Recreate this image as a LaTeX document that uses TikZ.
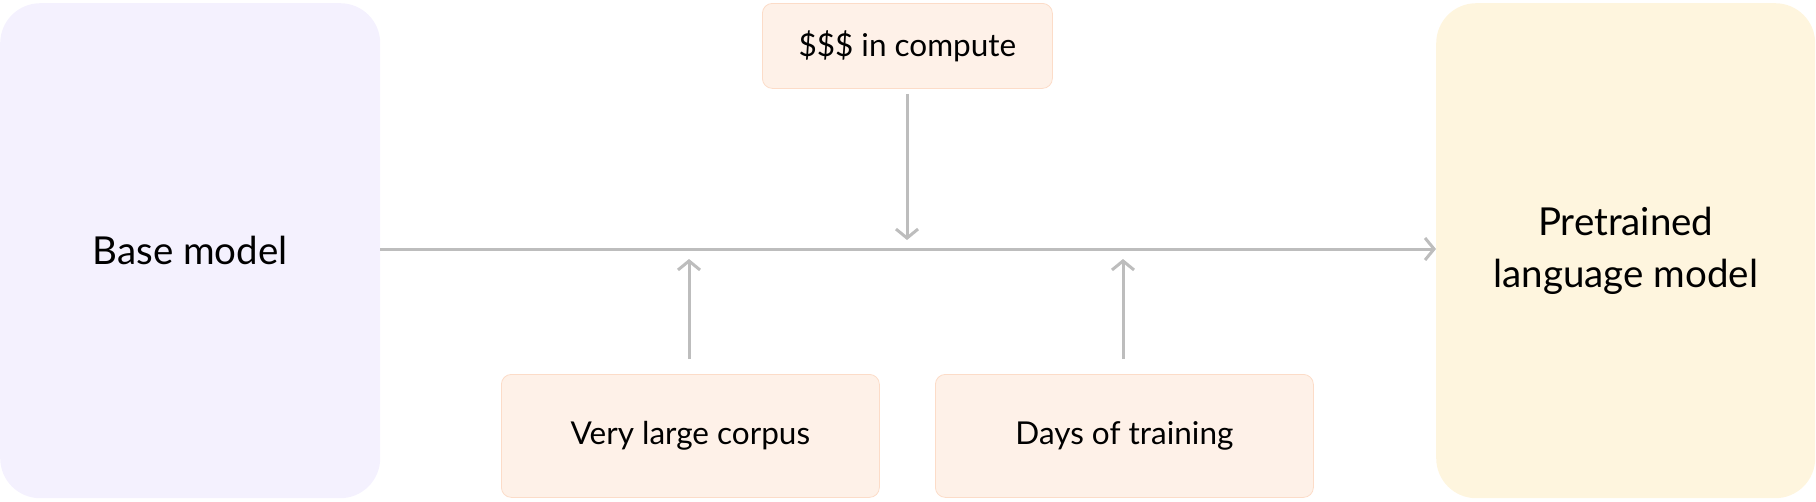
\documentclass[tikz,border=0pt]{standalone}
\usepackage{fontspec}
\setmainfont{Lato}
\usetikzlibrary{arrows.meta}
\definecolor{lav}{HTML}{F4F1FE}
\definecolor{yel}{HTML}{FEF5DE}
\definecolor{peach}{HTML}{FEF1E8}
\definecolor{peachline}{HTML}{FCDCC8}
\definecolor{conncol}{HTML}{BDBDBD}
\begin{document}
\begin{tikzpicture}[x=1pt,y=-1pt,
  bigbox/.style={rounded corners=40pt, inner sep=0pt, align=center, font=\fontsize{38.5}{52}\selectfont, anchor=north west},
  smallbox/.style={rounded corners=10pt, draw=peachline, line width=0.8pt, fill=peach, inner sep=0pt, font=\fontsize{31.5}{38}\selectfont, anchor=north west},
  conn/.style={draw=conncol, line width=3pt, -{Straight Barb[length=9pt,width=22pt,line width=3pt]}}]
\useasboundingbox (0,0) rectangle (1816,501);
\node[bigbox, fill=lav, minimum width=380pt, minimum height=495pt] (base) at (0,3) {Base model};
\node[bigbox, fill=yel, minimum width=379pt, minimum height=495pt] (plm) at (1436,3) {Pretrained\\language model};
\node[smallbox, minimum width=290pt, minimum height=85pt] (compute) at (762,3) {\$\$\$ in compute};
\node[smallbox, minimum width=378pt, minimum height=123pt] (corpus) at (501,374) {Very large corpus};
\node[smallbox, minimum width=378pt, minimum height=123pt] (days) at (935,374) {Days of training};
\coordinate (j1) at (907,249);
\coordinate (j2) at (689,249);
\coordinate (j3) at (1123,249);
\draw[conn] (base.east |- j1) -- (plm.west |- j1);
\draw[conn, shorten >=9pt] ([yshift=-5pt]compute.south -| j1) -- (j1);
\draw[conn, shorten >=10pt] ([yshift=15pt]corpus.north -| j2) -- (j2);
\draw[conn, shorten >=10pt] ([yshift=15pt]days.north -| j3) -- (j3);
\end{tikzpicture}
\end{document}
